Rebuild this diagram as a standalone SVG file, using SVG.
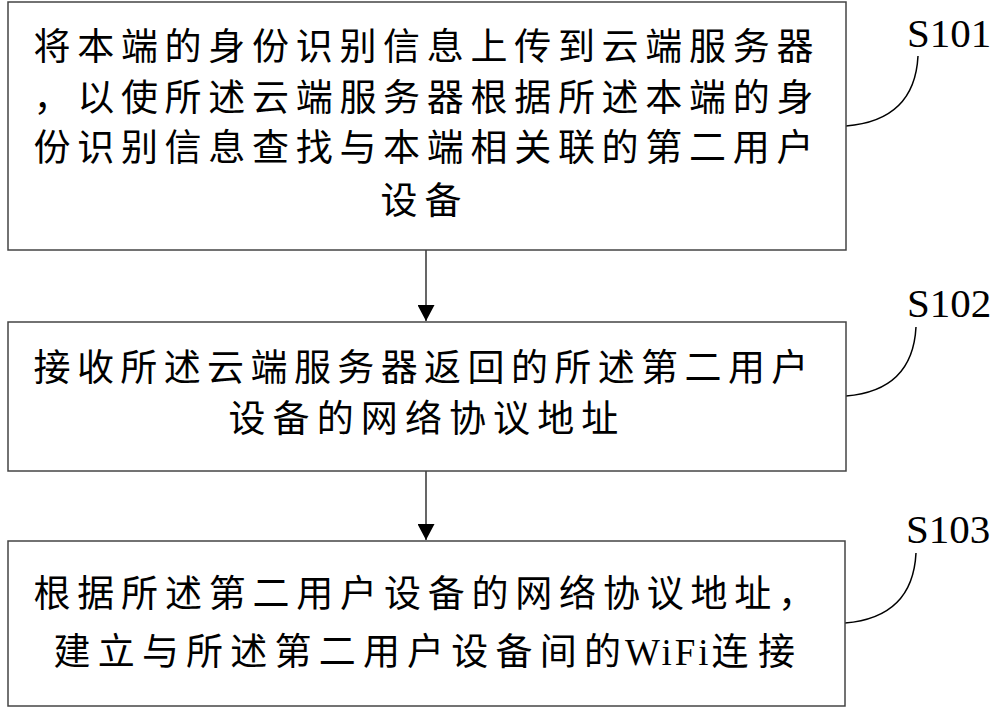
<svg xmlns="http://www.w3.org/2000/svg" width="1000" height="712" viewBox="0 0 1000 712">
<defs>
<style>
.box{fill:#fff;stroke:#444;stroke-width:1.5}
.t{font-family:"Noto Sans CJK SC","Noto Sans CJK JP",sans-serif;font-size:37px;fill:#000}
.lat{font-family:"Liberation Serif","Times New Roman",serif;font-size:37px;letter-spacing:3px}
.lbl{font-family:"Liberation Serif","Times New Roman",serif;font-size:41px;fill:#000}
.lead{fill:none;stroke:#000;stroke-width:1.5}
.conn{stroke:#000;stroke-width:1.2;fill:none}
</style>
<marker id="ah" markerWidth="16" markerHeight="17" refX="16" refY="8.5" orient="auto" markerUnits="userSpaceOnUse">
<path d="M0,0 L16,8.5 L0,17 Z" fill="#000"/>
</marker>
</defs>
<rect width="1000" height="712" fill="#fff"/>
<g id="connectors">
<line class="conn" x1="426" y1="250" x2="426" y2="321" marker-end="url(#ah)"/>
<line class="conn" x1="426" y1="471" x2="426" y2="540" marker-end="url(#ah)"/>
<path class="lead" d="M846,126 C895,122 916,95 918,56"/>
<path class="lead" d="M846,396 C895,392 914,365 916,327"/>
<path class="lead" d="M845,623 C894,619 914,592 916,553"/>
</g>
<g id="S101">
<rect class="box" x="8" y="2" width="838" height="248"/>
<text class="t" x="33.5" y="60" letter-spacing="6.7">将本端的身份识别信息上传到云端服务器</text>
<text class="t" x="33.5" y="111" letter-spacing="6.7">，以使所述云端服务器根据所述本端的身</text>
<text class="t" x="33.5" y="161" letter-spacing="6.7">份识别信息查找与本端相关联的第二用户</text>
<text class="t" x="380.5" y="214" letter-spacing="7">设备</text>
<text class="lbl" x="907" y="47">S101</text>
</g>
<g id="S102">
<rect class="box" x="8" y="322" width="838" height="149"/>
<text class="t" x="33.5" y="381" letter-spacing="6.4">接收所述云端服务器返回的所述第二用户</text>
<text class="t" x="228.5" y="432" letter-spacing="7.1">设备的网络协议地址</text>
<text class="lbl" x="907" y="317">S102</text>
</g>
<g id="S103">
<rect class="box" x="8" y="541" width="837" height="165"/>
<text class="t" x="33.5" y="607" letter-spacing="6.8">根据所述第二用户设备的网络协议地址，</text>
<text class="t" y="665"><tspan x="53.5" letter-spacing="7.2">建立与所述第二用户设备间的</tspan><tspan class="lat" x="625">WiFi</tspan><tspan x="711.5" letter-spacing="9.5">连接</tspan></text>
<text class="lbl" x="906" y="543">S103</text>
</g>
</svg>
